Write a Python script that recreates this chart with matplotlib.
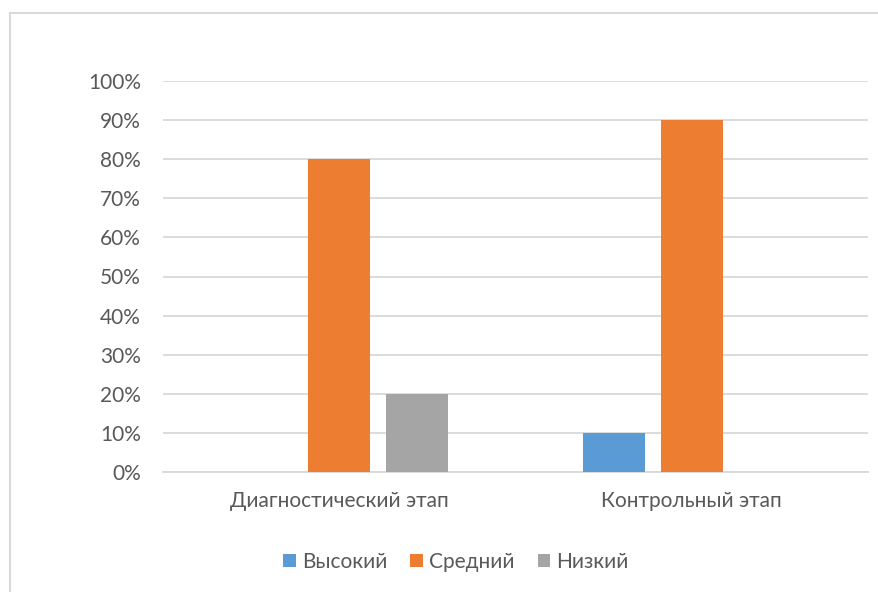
import numpy as np
import matplotlib.pyplot as plt
from matplotlib.patches import Rectangle
from matplotlib.ticker import PercentFormatter

plt.rcParams['font.family'] = ['Lato', 'DejaVu Sans']

# data
categories = ['Диагностический этап', 'Контрольный этап']
series = ['Высокий', 'Средний', 'Низкий']
high = [0.0, 0.10]
mid = [0.80, 0.90]
low = [0.20, 0.0]
colors = ['#5B9BD5', '#ED7D31', '#A5A5A5']

fig = plt.figure(figsize=(8.79, 5.92), dpi=100)
ax = fig.add_axes([163 / 879, 1 - 472 / 592, 705 / 879, 391 / 592])

x = np.arange(len(categories))
width = 0.176
step = 0.221
for i, (name, vals, c) in enumerate(zip(series, [high, mid, low], colors)):
    ax.bar(x + (i - 1) * step, vals, width, color=c, label=name, zorder=3)

ax.set_xlim(-0.5, 1.5)
ax.set_ylim(0, 1)
ax.set_yticks(np.arange(0, 1.01, 0.1))
ax.yaxis.set_major_formatter(PercentFormatter(1.0, decimals=0))
ax.set_xticks(x)
ax.set_xticklabels(categories)
ax.grid(axis='y', color='#D9D9D9', linewidth=1.3, zorder=0)
for s in ax.spines.values():
    s.set_visible(False)
ax.spines['bottom'].set_visible(True)
ax.spines['bottom'].set_color('#D9D9D9')
ax.spines['bottom'].set_linewidth(1.3)
ax.tick_params(axis='both', length=0, labelsize=15, colors='#595959')
ax.tick_params(axis='y', pad=16)
ax.tick_params(axis='x', pad=14)

fig.legend(loc='center', bbox_to_anchor=(456 / 879, 1 - 562 / 592), ncol=3,
           frameon=False, fontsize=15, handlelength=0.6, handleheight=0.6,
           handletextpad=0.3, columnspacing=1.1, labelcolor='#595959')

# chart frame (cut off at right and bottom in the reference)
fig.patches.append(Rectangle((10 / 879, -0.1), 1.0, 1 - 13 / 592 + 0.1,
                             transform=fig.transFigure, fill=False,
                             edgecolor='#D9D9D9', linewidth=1.5))

fig.savefig('out.png', dpi=100)
